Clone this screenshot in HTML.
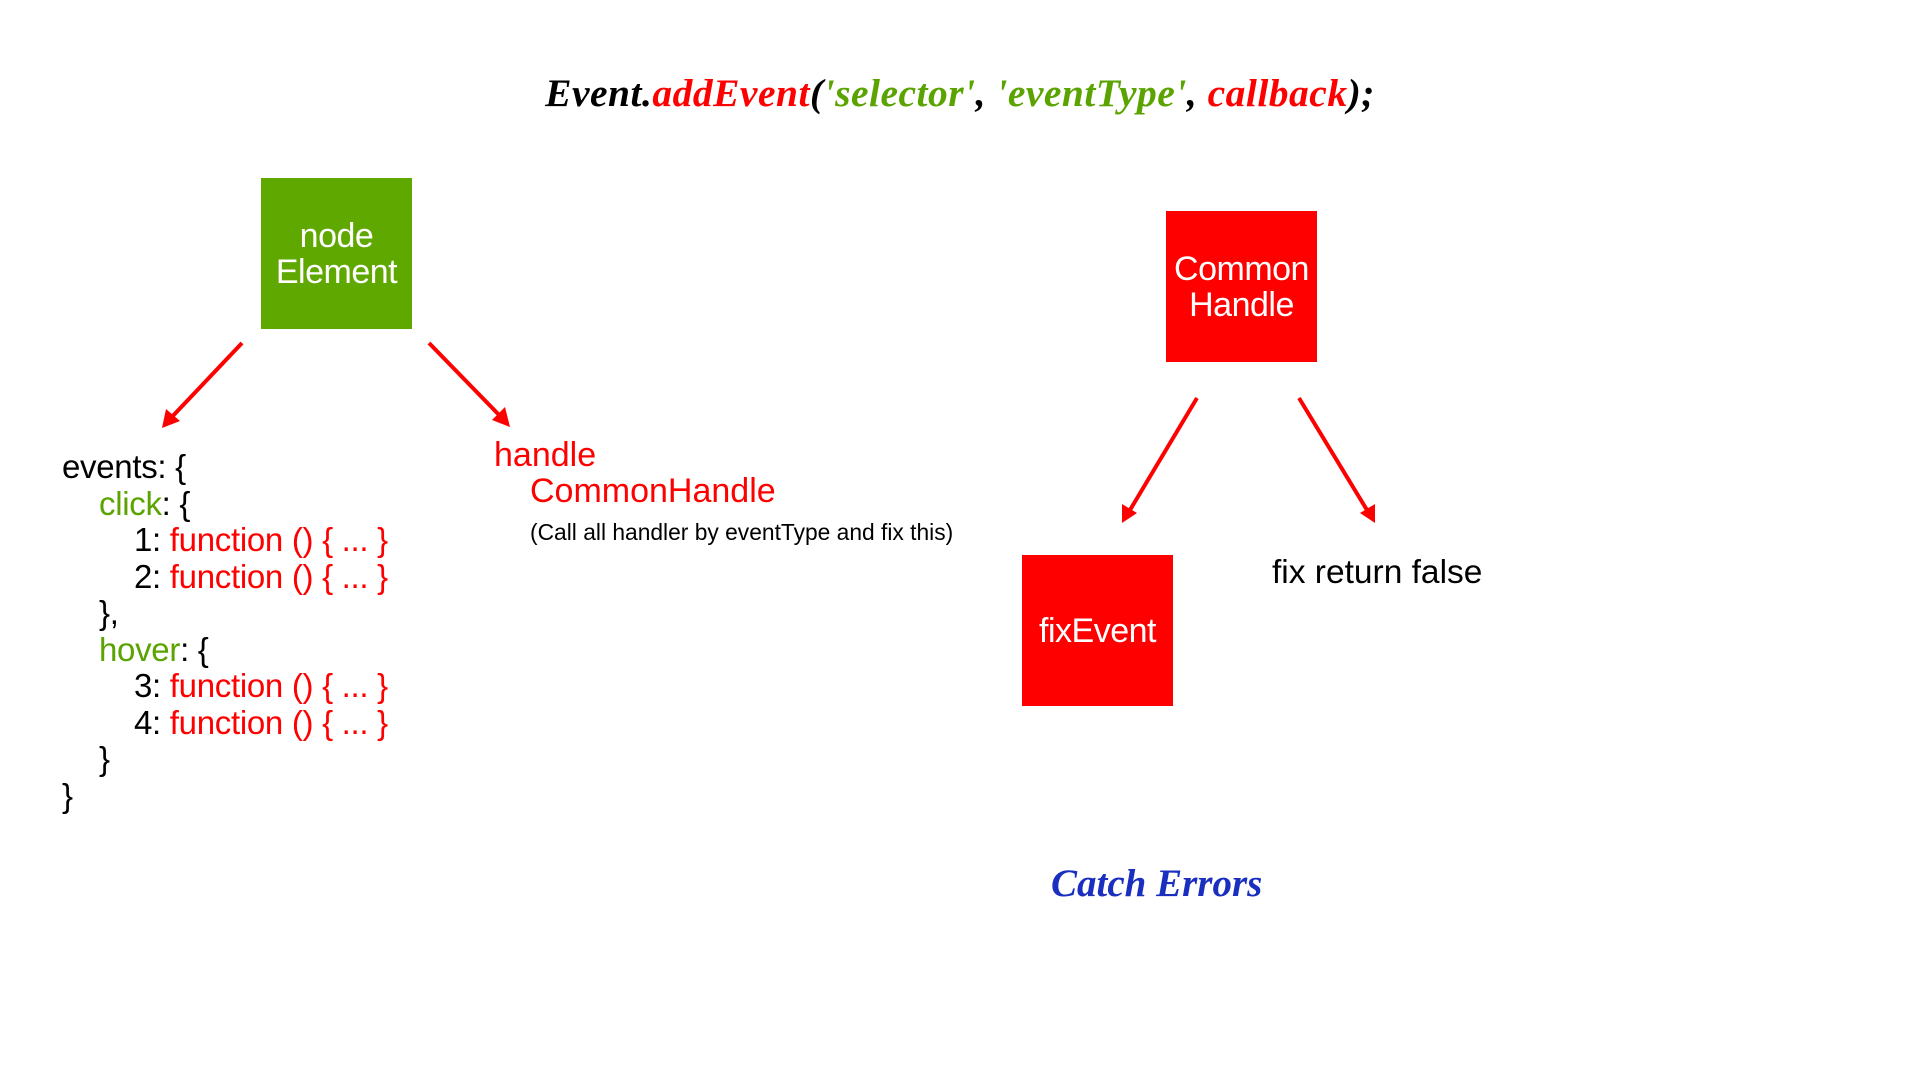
<!DOCTYPE html>
<html><head><meta charset="utf-8"><style>
body{margin:0;width:1920px;height:1080px;background:#fff;position:relative;overflow:hidden;font-family:"Liberation Sans",sans-serif}
.a{position:absolute;white-space:nowrap}
.box{position:absolute;display:flex;align-items:center;justify-content:center;text-align:center;color:#fff;font-size:34px;line-height:36px;letter-spacing:-0.5px}
.r{color:#f00}.g{color:#5aa300}.k{color:#000}
.code{position:absolute;left:62px;top:449px;font-size:33px;line-height:36.5px;letter-spacing:-0.3px}
</style></head><body>
<div class="a" style="left:0;width:1920px;text-align:center;top:70px;font-family:'Liberation Serif',serif;font-style:italic;font-weight:bold;font-size:39.5px;letter-spacing:0.5px">
<span class="k">Event.</span><span class="r">addEvent</span><span class="k">(</span><span class="g">'selector'</span><span class="k">, </span><span class="g">'eventType'</span><span class="k">, </span><span class="r">callback</span><span class="k">);</span></div>
<div class="box" style="left:261px;top:178px;width:151px;height:151px;background:#5fa800">node<br>Element</div>
<div class="box" style="left:1166px;top:211px;width:151px;height:151px;background:#f00">Common<br>Handle</div>
<div class="box" style="left:1022px;top:555px;width:151px;height:151px;background:#f00">fixEvent</div>
<svg class="a" style="left:0;top:0" width="1920" height="1080">
<g stroke="#f00" stroke-width="4" fill="none">
<line x1="242" y1="343" x2="169" y2="420"/>
<line x1="429" y1="343" x2="503" y2="419"/>
<line x1="1197" y1="398" x2="1127" y2="515"/>
<line x1="1299" y1="398" x2="1370" y2="515"/>
</g>
<g fill="#f00">
<polygon points="162,428 166,409 180,421"/>
<polygon points="510,427 492,420 505,407"/>
<polygon points="1122,523 1122,504 1137,513"/>
<polygon points="1375,523 1360,513 1375,504"/>
</g>
</svg>
<div class="code">
<div class="k">events: {</div>
<div style="padding-left:37px"><span class="g">click</span>: {</div>
<div style="padding-left:72px">1: <span class="r">function () { ... }</span></div>
<div style="padding-left:72px">2: <span class="r">function () { ... }</span></div>
<div style="padding-left:37px">},</div>
<div style="padding-left:37px"><span class="g">hover</span>: {</div>
<div style="padding-left:72px">3: <span class="r">function () { ... }</span></div>
<div style="padding-left:72px">4: <span class="r">function () { ... }</span></div>
<div style="padding-left:37px">}</div>
<div>}</div>
</div>
<div class="a r" style="left:494px;top:436px;font-size:34px">handle</div>
<div class="a r" style="left:530px;top:472px;font-size:34px">CommonHandle</div>
<div class="a" style="left:530px;top:519px;font-size:22.8px">(Call all handler by eventType and fix this)</div>
<div class="a" style="left:1272px;top:554px;font-size:33.5px">fix return false</div>
<div class="a" style="left:1051px;top:861px;font-family:'Liberation Serif',serif;font-style:italic;font-weight:bold;font-size:39px;color:#1a2fc0">Catch Errors</div>
</body></html>
